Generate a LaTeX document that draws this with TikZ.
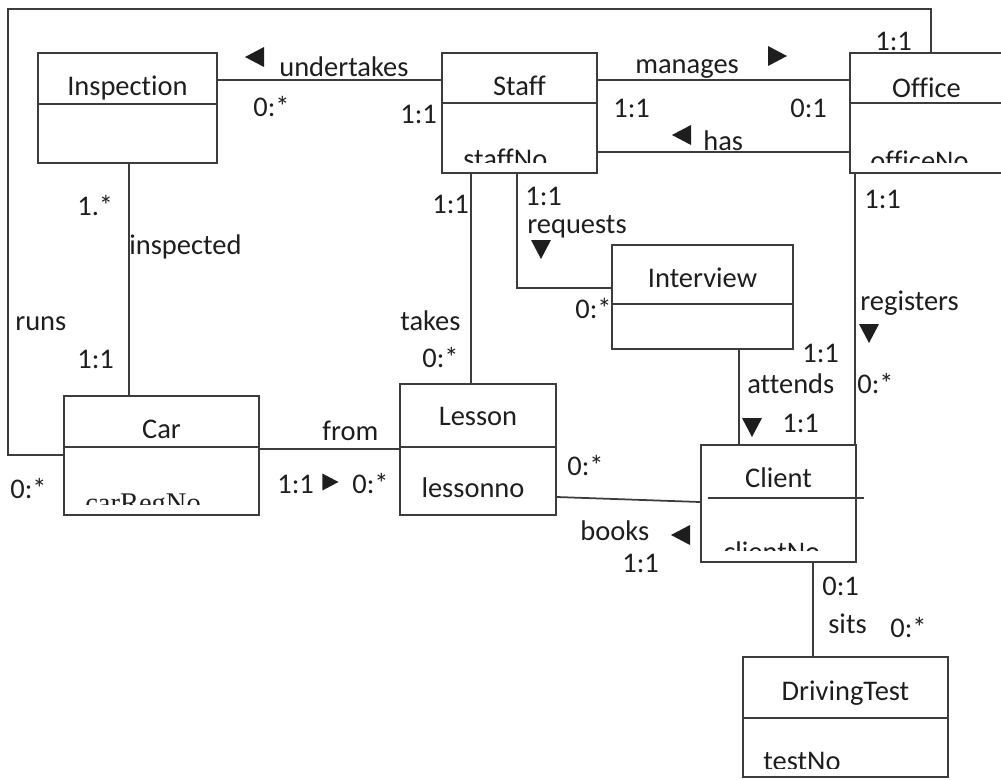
\documentclass[tikz,border=0pt]{standalone}
\usepackage{fontspec}
\setmainfont{Carlito}[Ligatures=NoCommon]
\newfontfamily\serifattr{Liberation Serif}
\usetikzlibrary{fit}

\definecolor{linegray}{HTML}{3C3C3C}
\definecolor{inkgray}{HTML}{1E1E1E}

\tikzset{
  classbox/.style={draw=linegray, line width=1pt, inner sep=0pt},
  rule/.style={draw=linegray, line width=1pt},
  link/.style={draw=linegray, line width=1pt},
  lbl/.style={inner sep=0pt, anchor=base west, text=inkgray},
  classname/.style={inner sep=0pt, anchor=base, text=inkgray},
  dirmark/.pic={\fill[inkgray] (-9,-10) -- (10,0) -- (-9,10) -- cycle;}
}

% class box: name, left, top, right, bottom, baseline of title, title
\newcommand{\umlclass}[7]{%
  \node[classbox, fit={(#2,#3) (#4,#5)}] (#1) {};
  \node[classname] (#1-name) at ({(#2+#4)/2},#6) {#7};
}

% attribute line, cut off below y=#5
\newcommand{\attrib}[5]{%
  \begin{scope}
    \clip (#1.west |- 0,#5) rectangle (#1.north east);
    \node[lbl] (#1-attr) at (#2,#3) {#4};
  \end{scope}}

\begin{document}
\begin{tikzpicture}[x=0.2mm, y=-0.2mm, font=\fontsize{16.2pt}{19pt}\selectfont]
\useasboundingbox (0,0) rectangle (1001,780);

% classes
\umlclass{insp}{38}{53}{217}{163}{95}{Inspection}
\umlclass{staff}{442}{53}{597}{173}{95}{Staff}
\umlclass{office}{850}{53}{1003}{173}{97}{Office}
\umlclass{interview}{612}{245}{793}{349}{287}{Interview}
\umlclass{car}{64}{396}{259}{515}{438}{Car}
\umlclass{lesson}{400}{384}{556}{515}{425}{Lesson}
\umlclass{client}{701}{445}{856}{562}{487}{Client}
\umlclass{drvtest}{743}{657}{948}{777}{700}{DrivingTest}

\foreach \l/\r/\y in {38/217/104, 442/597/103, 850/1003/103, 612/793/304,
                      64/259/447, 400/556/447, 708/864/498, 743/948/718}
  \draw[rule] (\l,\y) -- (\r,\y);

% attributes
\attrib{staff}{463}{168}{staffNo}{162}
\attrib{office}{870}{170}{officeNo}{162}
\attrib{car}{85}{512}{\serifattr carRegNo}{504}
\attrib{client}{723}{561}{clientNo}{550}
\attrib{drvtest}{763}{770}{testNo}{768}
\node[classname] (lesson-attr) at (473,497) {lessonno};

% undertakes
\draw[link] (insp.east |- 0,80) -- (staff.west |- 0,80);
\node[lbl] at (279,76) {undertakes};
\pic[rotate=180] at (255,57) {dirmark};
\node[lbl] at (253,116) {0:*};
\node[lbl] at (400,123) {1:1};

% manages / has
\draw[link] (staff.east |- 0,80) -- (office.west |- 0,80);
\node[lbl] at (635,73) {manages};
\pic at (777,56) {dirmark};
\node[lbl] at (613,117) {1:1};
\node[lbl] at (790,117) {0:1};
\draw[link] (staff.east |- 0,152) -- (office.west |- 0,152);
\node[lbl] at (703,150) {has};
\pic[rotate=180] at (682,135) {dirmark};

% runs
\draw[link] (office.north -| 931,0) -- (931,9) -- (8,9) -- (8,455) -- (car.west |- 0,455);
\node[lbl] at (875,50) {1:1};
\node[lbl] at (15,330) {runs};
\node[lbl] at (10,498) {0:*};

% inspected
\draw[link] (insp.south -| 129,0) -- (car.north -| 129,0);
\node[lbl] at (77,215) {1.*};
\node[lbl] at (129,254) {inspected};
\node[lbl] at (77,368) {1:1};

% takes
\draw[link] (staff.south -| 471,0) -- (lesson.north -| 471,0);
\node[lbl] at (432,213) {1:1};
\node[lbl] at (400,330) {takes};
\node[lbl] at (422,367) {0:*};

% requests
\draw[link] (staff.south -| 517,0) |- (interview.west |- 0,288);
\node[lbl] at (525,205) {1:1};
\node[lbl] at (527,233) {requests};
\pic[rotate=-90] at (541,249) {dirmark};
\node[lbl] at (575,318) {0:*};

% attends
\draw[link] (interview.south -| 739,0) -- (client.north -| 739,0);
\node[lbl] at (802,362) {1:1};
\node[lbl] at (747,393) {attends};
\pic[rotate=-90] at (752,427) {dirmark};
\node[lbl] at (782,432) {1:1};

% registers
\draw[link] (office.south -| 855,0) -- (client.north -| 855,0);
\node[lbl] at (864,208) {1:1};
\node[lbl] at (860,310) {registers};
\pic[rotate=-90] at (869,333) {dirmark};
\node[lbl] at (857,393) {0:*};

% from
\draw[link] (car.east |- 0,449) -- (lesson.west |- 0,449);
\node[lbl] at (322,440) {from};
\node[lbl] at (277,493) {1:1};
\pic[scale=0.85] at (330,482) {dirmark};
\node[lbl] at (352,493) {0:*};

% books
\draw[link] (lesson.east |- 0,497) -- (client.west |- 0,502);
\node[lbl] at (567,475) {0:*};
\node[lbl] at (580,540) {books};
\pic[rotate=180] at (681,535) {dirmark};
\node[lbl] at (622,572) {1:1};

% sits
\draw[link] (client.south -| 813,0) -- (drvtest.north -| 813,0);
\node[lbl] at (822,595) {0:1};
\node[lbl] at (828,633) {sits};
\node[lbl] at (890,637) {0:*};

\end{tikzpicture}
\end{document}
